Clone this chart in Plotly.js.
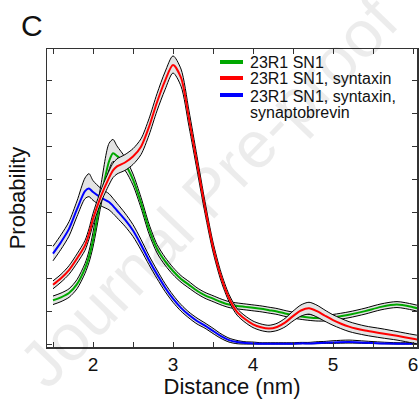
<!DOCTYPE html>
<html>
<head>
<meta charset="utf-8">
<script src="https://cdn.plot.ly/plotly-3.0.1.min.js"></script>
<style>
html,body{margin:0;padding:0;background:#fff;}
#chart{width:420px;height:399px;}
</style>
</head>
<body>
<div id="chart"></div>
<script>
// distance grid (nm)
const distance = [1.5,1.6,1.7,1.8,1.9,1.95,2.0,2.1,2.2,2.25,2.3,2.4,2.5,2.6,2.7,2.8,2.9,3.0,3.1,3.2,3.3,3.4,3.5,3.6,3.7,3.8,3.9,4.0,4.1,4.2,4.3,4.4,4.5,4.6,4.7,4.8,4.9,5.0,5.2,5.4,5.6,5.8,6.0,6.1];

// 23R1 SN1 (green)
const greenMean = [1.33,1.42,1.55,1.82,2.3,2.65,3.15,4.45,5.55,5.8, 5.72,5.48,5.0,4.3,3.5,2.9,2.52,2.22,1.98,1.8, 1.62,1.48,1.38,1.28,1.2,1.16,1.13,1.1,1.07,1.03, 0.99,0.93,0.88,0.84,0.81,0.79,0.79,0.81,0.89,1.0, 1.13,1.2,1.12,1.06];
const greenErrUp = [0.13,0.13,0.13,0.14,0.15,0.18,0.25,0.4,0.55,0.42, 0.3,0.2,0.17,0.16,0.15,0.13,0.12,0.11,0.1,0.1, 0.09,0.09,0.09,0.09,0.09,0.09,0.09,0.09,0.09,0.09, 0.09,0.09,0.09,0.09,0.09,0.09,0.09,0.09,0.09,0.09, 0.09,0.09,0.09,0.09];
const greenErrDn = [0.13,0.13,0.13,0.14,0.15,0.17,0.2,0.23,0.25,0.25, 0.23,0.2,0.17,0.16,0.15,0.13,0.12,0.11,0.1,0.1, 0.09,0.09,0.09,0.09,0.09,0.09,0.09,0.09,0.09,0.09, 0.09,0.09,0.09,0.09,0.09,0.09,0.09,0.09,0.09,0.09, 0.09,0.09,0.09,0.09];

// 23R1 SN1, syntaxin (red)
const redMean = [1.8,2.0,2.25,2.6,3.0,3.35,3.8,4.5,5.05,5.28, 5.4,5.52,5.7,6.0,6.6,7.35,8.0,8.48,8.1,6.85, 5.5,4.15,2.95,2.05,1.4,0.98,0.76,0.6,0.51,0.47, 0.52,0.65,0.85,1.02,1.09,1.0,0.86,0.73,0.53,0.41, 0.33,0.25,0.16,0.12];
const redErrUp = [0.12,0.12,0.13,0.14,0.15,0.16,0.17,0.19,0.21,0.22, 0.23,0.24,0.24,0.24,0.25,0.26,0.27,0.28,0.26,0.24, 0.21,0.18,0.15,0.13,0.11,0.1,0.1,0.1,0.1,0.1, 0.11,0.13,0.15,0.17,0.18,0.18,0.17,0.16,0.15,0.14, 0.14,0.13,0.13,0.13];
const redErrDn = [0.12,0.12,0.13,0.14,0.15,0.16,0.17,0.19,0.21,0.22, 0.23,0.24,0.24,0.24,0.25,0.26,0.27,0.24,0.26,0.24, 0.21,0.18,0.15,0.13,0.11,0.1,0.1,0.1,0.1,0.1, 0.11,0.13,0.15,0.17,0.18,0.18,0.17,0.16,0.15,0.14, 0.14,0.13,0.13,0.13];

// 23R1 SN1, syntaxin, synaptobrevin (blue)
const blueMean = [2.75,3.1,3.5,4.1,4.65,4.73,4.62,4.45,4.32,4.2, 4.06,3.78,3.45,3.02,2.55,2.12,1.72,1.38,1.1,0.88, 0.7,0.56,0.4,0.24,0.12,0.06,0.03,0.02,0.01,0.01, 0.01,0.01,0.01,0.02,0.02,0.03,0.04,0.05,0.06,0.04, 0.02,0.01,0.01,0.01];
const blueErrUp = [0.22,0.22,0.22,0.25,0.4,0.45,0.35,0.28,0.25,0.23, 0.22,0.2,0.18,0.16,0.14,0.13,0.12,0.11,0.1,0.09, 0.09,0.08,0.08,0.07,0.06,0.05,0.04,0.04,0.03,0.03, 0.03,0.03,0.03,0.03,0.03,0.04,0.04,0.05,0.06,0.05, 0.04,0.03,0.03,0.03];
const blueErrDn = [0.22,0.22,0.22,0.22,0.23,0.25,0.25,0.25,0.24,0.23, 0.22,0.2,0.18,0.16,0.14,0.13,0.12,0.11,0.1,0.09, 0.09,0.08,0.08,0.07,0.06,0.05,0.03,0.02,0.01,0.01, 0.01,0.01,0.01,0.01,0.01,0.02,0.02,0.03,0.03,0.02, 0.01,0.01,0.01,0.01];

const seriesNames = ["23R1 SN1", "23R1 SN1, syntaxin", "23R1 SN1, syntaxin,", "synaptobrevin"];
const xTickVals = [2,3,4,5,6];

const BAND = '#e3e3e3';
function band(mean, up, dn, color) {
  const lo = mean.map((v,i)=>v-dn[i]);
  const hi = mean.map((v,i)=>v+up[i]);
  return [
    {x: distance, y: lo, mode:'lines', line:{color:'#000', width:1, shape:'spline', smoothing:0.8}, showlegend:false, hoverinfo:'skip'},
    {x: distance, y: hi, mode:'lines', fill:'tonexty', fillcolor:BAND, line:{color:'#000', width:1, shape:'spline', smoothing:0.8}, showlegend:false, hoverinfo:'skip'},
    {x: distance, y: mean, mode:'lines', line:{color:color, width:2, shape:'spline', smoothing:0.8}, showlegend:false}
  ];
}

const GREEN = '#00a800', RED = '#ff0000', BLUE = '#0000ff';
const data = [].concat(
  band(blueMean, blueErrUp, blueErrDn, BLUE),
  band(greenMean, greenErrUp, greenErrDn, GREEN),
  band(redMean, redErrUp, redErrDn, RED)
);

const L = 47, R = 417, T = 49, B = 347;
const px = v => (v - L) / (R - L);
const py = v => (B - v) / (B - T);

const FONT = 'Liberation Sans, Arial, sans-serif';
const legendLines = [[62, GREEN],[78, RED],[95, BLUE]];
const shapes = legendLines.map(([yy,c]) => ({type:'line', xref:'paper', yref:'paper', x0:px(220), x1:px(243), y0:py(yy), y1:py(yy), line:{color:c, width:4}}));

const legendTextY = [62, 79, 96, 112];
const annotations = seriesNames.map((t,i)=>({text:t, xref:'paper', yref:'paper', x:px(249), y:py(legendTextY[i]), xanchor:'left', yanchor:'middle', showarrow:false, borderpad:0, font:{family:FONT, size:16, color:'#111'}}));
annotations.push({text:'C', xref:'paper', yref:'paper', x:px(32), y:py(26), xanchor:'center', yanchor:'middle', showarrow:false, font:{family:FONT, size:30, color:'#111'}});
annotations.push({text:'Journal Pre-proof', xref:'paper', yref:'paper', x:px(208), y:py(192), xanchor:'center', yanchor:'middle', showarrow:false, textangle:-46, font:{family:FONT, size:66, color:'rgba(0,0,0,0.075)'}});

const axisCommon = {showline:true, linecolor:'#333', linewidth:1.5, mirror:'ticks', ticks:'inside', ticklen:5, tickwidth:1, tickcolor:'#333', showgrid:false, zeroline:false};

const layout = {
  width:420, height:399,
  margin:{l:L, r:420-R, t:T, b:399-B},
  paper_bgcolor:'#fff', plot_bgcolor:'#fff',
  showlegend:false,
  xaxis: Object.assign({}, axisCommon, {
    range:[1.425, 6.05], tickvals:xTickVals, ticktext:xTickVals.map(String),
    minor:{dtick:0.5, tick0:0, ticks:'inside', ticklen:5, tickcolor:'#333', showgrid:false},
    tickfont:{family:FONT, size:19, color:'#111'},
    title:{text:'Distance (nm)', font:{family:FONT, size:22, color:'#111'}, standoff:7}
  }),
  yaxis: Object.assign({}, axisCommon, {
    range:[-0.09, 8.97], dtick:1, tick0:0, showticklabels:false,
    title:{text:'Probability', font:{family:FONT, size:22, color:'#111'}, standoff:14}
  }),
  shapes: shapes,
  annotations: annotations
};

Plotly.newPlot('chart', data, layout, {displayModeBar:false, staticPlot:true});
</script>
</body>
</html>
